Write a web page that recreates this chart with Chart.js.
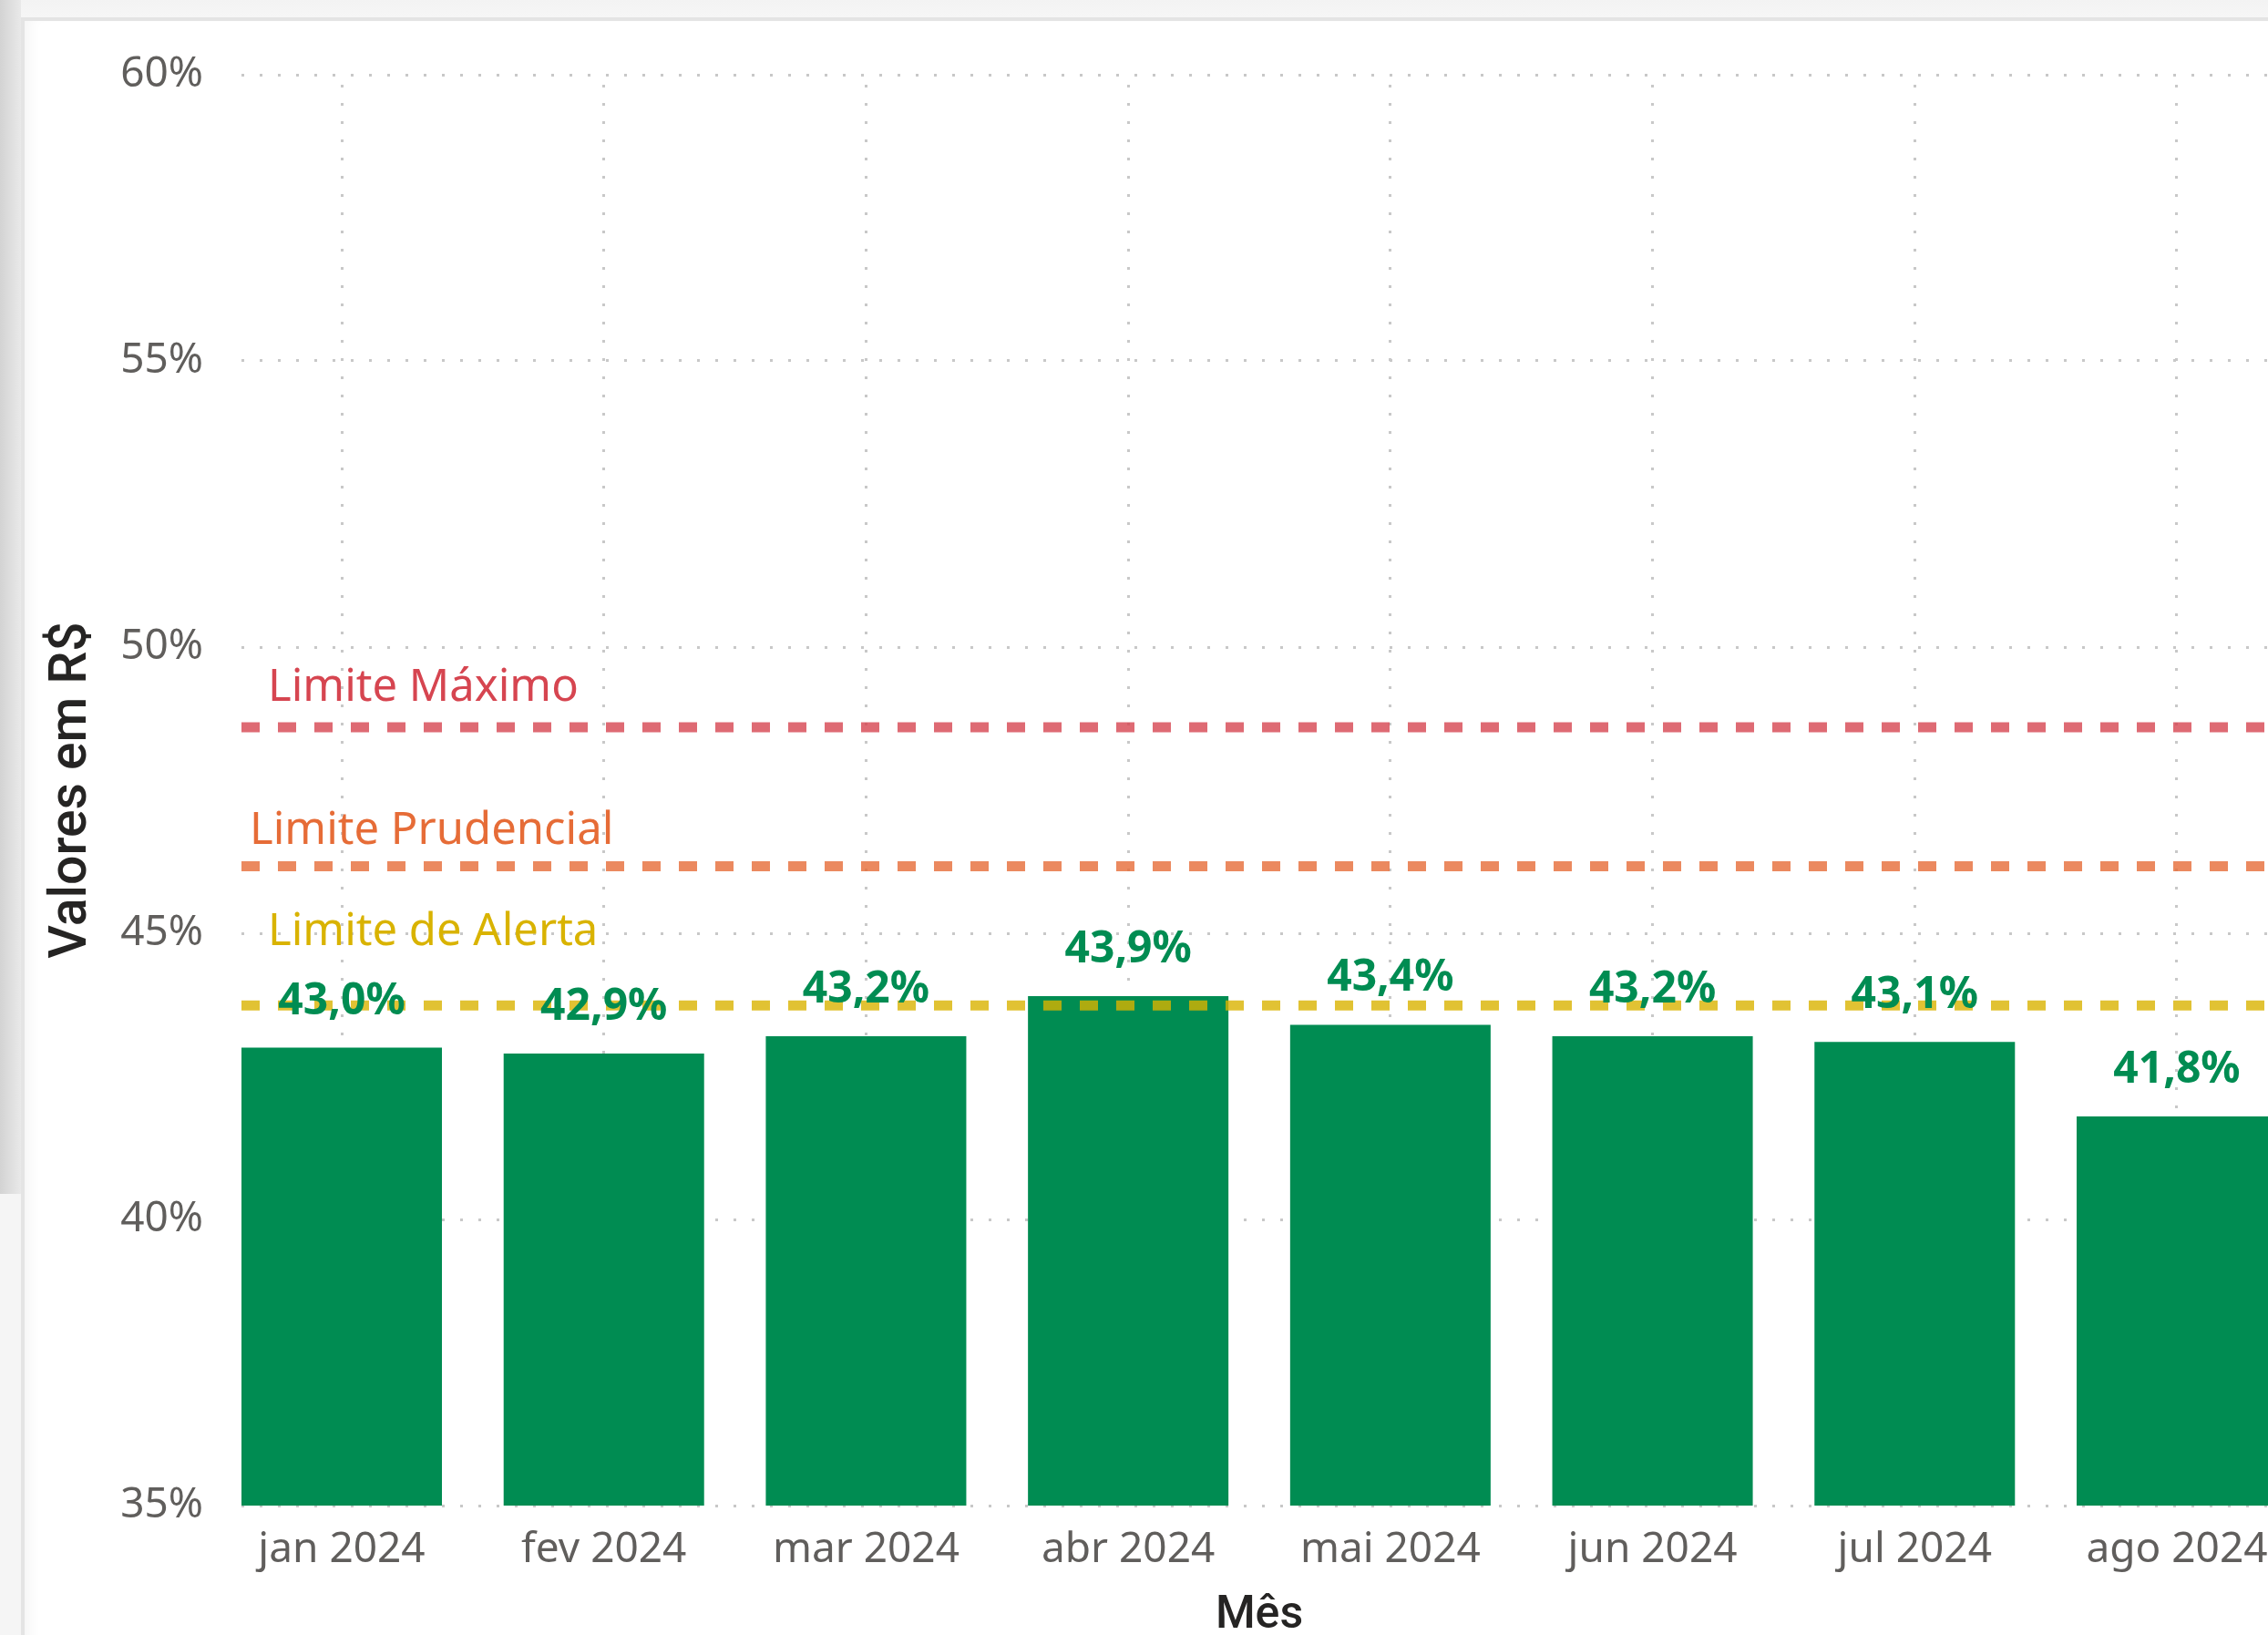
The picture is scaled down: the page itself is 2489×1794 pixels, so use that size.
<!DOCTYPE html>
<html lang="pt-BR">
<head>
<meta charset="utf-8">
<title>Despesa com pessoal – % da RCL</title>
<script src="https://cdn.jsdelivr.net/npm/chart.js@4.4.1/dist/chart.umd.min.js"></script>
<style>
  html, body { margin: 0; padding: 0; width: 2489px; height: 1794px; overflow: hidden; background: #f5f5f5; }
  #bgTop { position: absolute; left: 0; top: 0; width: 2489px; height: 19px; background: linear-gradient(to bottom, #f3f3f3, #f6f6f6); }
  #bgLeft { position: absolute; left: 0; top: 0; width: 23px; height: 1310px; background: linear-gradient(to right, #d3d3d3, #e9e9e9); }
  #card { position: absolute; left: 23px; top: 19px; width: 2600px; height: 1900px; background: #ffffff;
          border-left: 4px solid #e4e4e4; border-top: 4px solid #e4e4e4; box-sizing: border-box;
          box-shadow: inset 14px 0 16px -10px rgba(0,0,0,0.05); }
  #wrap { position: absolute; left: 0; top: 0; width: 2520px; height: 1840px; }
</style>
</head>
<body>
<div id="bgTop"></div>
<div id="bgLeft"></div>
<div id="card"></div>
<div id="wrap"><canvas id="chart"></canvas></div>
<script>
// ---------------- DATA ----------------
const months = ['jan 2024', 'fev 2024', 'mar 2024', 'abr 2024', 'mai 2024', 'jun 2024', 'jul 2024', 'ago 2024'];
const despesaPct = [43.0, 42.9, 43.2, 43.9, 43.4, 43.2, 43.1, 41.8];
const limitNames = ['Limite Máximo', 'Limite Prudencial', 'Limite de Alerta'];
const limitValues = [48.6, 46.17, 43.74];
const yTickValues = [35, 40, 45, 50, 55, 60];
const yAxisTitle = 'Valores em R$';
const xAxisTitle = 'Mês';

// ---------------- STYLE ----------------
const BAR_COLOR = '#008C52';
const TICK_COLOR = '#605E5C';
const TITLE_COLOR = '#252423';
const GRID_COLOR = '#c8c8c8';
const BAR_FRACTION = 0.7647;           // bar width / category spacing
const limitStyles = [
  { text: '#D64550', line: 'rgba(214,69,80,0.8)',  dx: 29, dy: 29 },
  { text: '#E66C37', line: 'rgba(230,108,55,0.8)', dx: 9,  dy: 25 },
  { text: '#D9B300', line: 'rgba(217,179,0,0.8)',  dx: 29, dy: 66 }
];

const X_MIN = -BAR_FRACTION / 2;
const X_MAX = (months.length - 1) + BAR_FRACTION / 2;

const fmtPct = v => v.toFixed(1).replace('.', ',') + '%';

const datasets = [
  {
    type: 'bar',
    label: 'Despesa',
    data: despesaPct.map((v, i) => ({ x: i, y: v })),
    backgroundColor: BAR_COLOR,
    borderWidth: 0,
    categoryPercentage: 1,
    barPercentage: BAR_FRACTION,
    order: 5
  }
];
limitValues.forEach((lv, k) => {
  datasets.push({
    type: 'line',
    label: limitNames[k],
    data: [{ x: X_MIN, y: lv }, { x: X_MAX, y: lv }],
    borderColor: limitStyles[k].line,
    borderWidth: 11,
    borderDash: [20, 20],
    pointRadius: 0,
    fill: false,
    tension: 0,
    order: 1
  });
});

const labelPlugin = {
  id: 'labelPlugin',
  afterDatasetsDraw(chart) {
    const { ctx, chartArea, scales } = chart;
    ctx.save();
    // reference line labels
    ctx.font = '400 49px "Noto Sans"';
    ctx.textAlign = 'left';
    ctx.textBaseline = 'alphabetic';
    limitValues.forEach((lv, k) => {
      ctx.fillStyle = limitStyles[k].text;
      ctx.fillText(limitNames[k], chartArea.left + limitStyles[k].dx, scales.y.getPixelForValue(lv) - limitStyles[k].dy);
    });
    // bar data labels
    const meta = chart.getDatasetMeta(0);
    ctx.font = '700 48px "Noto Sans"';
    ctx.fillStyle = BAR_COLOR;
    ctx.textAlign = 'center';
    meta.data.forEach((el, i) => {
      ctx.fillText(fmtPct(despesaPct[i]), el.x, el.y - 37);
    });
    ctx.restore();
  }
};

function build() {
  new Chart(document.getElementById('chart'), {
    data: { datasets },
    plugins: [labelPlugin],
    options: {
      responsive: true,
      maintainAspectRatio: false,
      animation: false,
      events: [],
      devicePixelRatio: 1,
      layout: { padding: { left: 24, top: 82, right: 21, bottom: 0 } },
      plugins: { legend: { display: false }, tooltip: { enabled: false } },
      scales: {
        x: {
          type: 'linear',
          offset: false,
          min: X_MIN,
          max: X_MAX,
          afterBuildTicks: s => { s.ticks = months.map((_, i) => ({ value: i })); },
          afterFit: s => { s.height = 188; },
          ticks: {
            autoSkip: false,
            maxRotation: 0,
            padding: 21,
            color: TICK_COLOR,
            font: { family: '"Noto Sans"', size: 46, weight: '400' },
            callback: v => months[v]
          },
          grid: { display: true, offset: false, drawTicks: false, color: GRID_COLOR, lineWidth: 3 },
          border: { display: false, dash: [3, 17], dashOffset: 9 },
          title: {
            display: true,
            text: xAxisTitle,
            color: TITLE_COLOR,
            font: { family: 'Roboto', size: 50, weight: '500' },
            padding: { top: 0, bottom: 37 }
          }
        },
        y: {
          type: 'linear',
          min: yTickValues[0],
          max: yTickValues[yTickValues.length - 1],
          afterBuildTicks: s => { s.ticks = yTickValues.map(v => ({ value: v })); },
          afterFit: s => { s.width = 241; },
          ticks: {
            padding: 42,
            color: TICK_COLOR,
            font: { family: '"Noto Sans"', size: 46, weight: '400' },
            callback: v => v + '%'
          },
          grid: { display: true, drawTicks: false, color: GRID_COLOR, lineWidth: 3 },
          border: { display: false, dash: [3, 17], dashOffset: 0 },
          title: {
            display: true,
            text: yAxisTitle,
            color: TITLE_COLOR,
            font: { family: 'Roboto', size: 57, weight: '500' },
            padding: { top: 22, bottom: 0 }
          }
        }
      }
    }
  });
}

const fontLoads = [
  '400 46px "Noto Sans"', '700 48px "Noto Sans"', '500 57px Roboto'
].map(f => document.fonts.load(f).catch(() => null));
Promise.race([Promise.all(fontLoads), new Promise(r => setTimeout(r, 1500))]).then(build);
</script>
</body>
</html>
